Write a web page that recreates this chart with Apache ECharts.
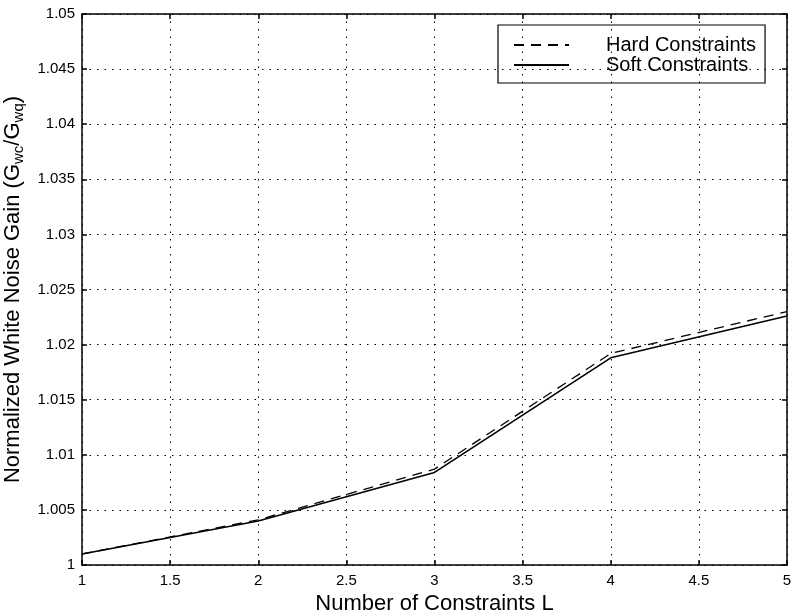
<!DOCTYPE html>
<html>
<head>
<meta charset="utf-8">
<script src="https://cdn.jsdelivr.net/npm/echarts@6/dist/echarts.min.js"></script>
<style>html,body{margin:0;padding:0;background:#fff;}#c{width:793px;height:615px;}</style>
</head>
<body>
<div id="c"></div>
<script>
const constraintsL = [1, 2, 3, 4, 5];
const hardConstraints = [1.0010, 1.0041, 1.0087, 1.0192, 1.0230];
const softConstraints = [1.0010, 1.0040, 1.0084, 1.0188, 1.0226];
const seriesNames = ['Hard Constraints', 'Soft Constraints'];
const xTitle = 'Number of Constraints L';

const font = 'Liberation Sans, Arial, Helvetica, sans-serif';
const chart = echarts.init(document.getElementById('c'), null, {renderer: 'canvas'});
const fmt = v => String(+v.toFixed(3));
const dotted = {show: true, lineStyle: {color: '#000', width: 1, type: [1.5, 6]}};
const boxAxisLine = {show: true, onZero: false, lineStyle: {color: '#000', width: 1.5}};
const tick = {show: true, inside: true, length: 5, lineStyle: {color: '#000', width: 1.5}};

chart.setOption({
  animation: false,
  backgroundColor: '#fff',
  textStyle: {fontFamily: font},
  grid: {left: 82, right: 6, top: 14, bottom: 50, containLabel: false, outerBoundsMode: 'none'},
  legend: {
    left: 498, top: 25, orient: 'vertical',
    borderColor: '#000', borderWidth: 1.2,
    padding: [10, 9, 8, 15],
    itemWidth: 55, itemHeight: 14, itemGap: 0,
    itemStyle: {opacity: 0},
    textStyle: {fontFamily: font, fontSize: 20, color: '#000', lineHeight: 20, padding: [0, 0, 0, 32]},
    data: seriesNames
  },
  xAxis: [{
    type: 'value', min: 1, max: 5, interval: 0.5,
    name: xTitle, nameLocation: 'middle', nameGap: 26,
    nameTextStyle: {fontFamily: font, fontSize: 22, color: '#000'},
    axisLine: boxAxisLine, axisTick: tick,
    axisLabel: {color: '#000', fontSize: 15, margin: 8, formatter: fmt, fontFamily: font},
    splitLine: dotted
  }, {
    type: 'value', min: 1, max: 5, interval: 0.5, position: 'top',
    axisLine: boxAxisLine, axisTick: tick, axisLabel: {show: false}, splitLine: {show: false}
  }],
  yAxis: [{
    type: 'value', min: 1, max: 1.05, interval: 0.005,
    name: 'Normalized White Noise Gain (G{sub|wc}/G{sub|wq})',
    nameLocation: 'middle', nameGap: 51,
    nameTextStyle: {
      fontFamily: font, fontSize: 22, color: '#000',
      rich: {sub: {fontFamily: font, fontSize: 15, color: '#000', padding: [13, 0, 0, 0]}}
    },
    axisLine: boxAxisLine, axisTick: tick,
    axisLabel: {color: '#000', fontSize: 15, margin: 7, formatter: fmt, fontFamily: font},
    splitLine: dotted
  }, {
    type: 'value', min: 1, max: 1.05, interval: 0.005, position: 'right',
    axisLine: boxAxisLine, axisTick: tick, axisLabel: {show: false}, splitLine: {show: false}
  }],
  series: [{
    name: seriesNames[0], type: 'line', symbol: 'none',
    data: constraintsL.map((x, i) => [x, hardConstraints[i]]),
    lineStyle: {color: '#000', width: 1.3, type: [10, 7]},
    itemStyle: {color: '#000'}
  }, {
    name: seriesNames[1], type: 'line', symbol: 'none',
    data: constraintsL.map((x, i) => [x, softConstraints[i]]),
    lineStyle: {color: '#000', width: 1.6, type: 'solid'},
    itemStyle: {color: '#000'}
  }]
});
</script>
</body>
</html>
